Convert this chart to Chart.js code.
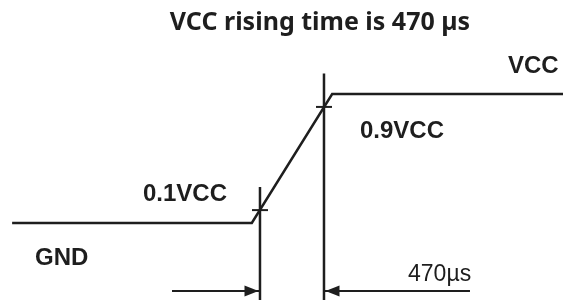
<!DOCTYPE html>
<html>
<head>
<meta charset="utf-8">
<script src="https://cdn.jsdelivr.net/npm/chart.js@4"></script>
<style>
  html, body { margin: 0; padding: 0; background: #fff; }
  #wrap { width: 563px; height: 300px; }
</style>
</head>
<body>
<div id="wrap"><canvas id="chart"></canvas></div>
<script>
// waveform: time in µs (0 = start of the rise), level as a fraction of VCC
const waveTime = [-1760, 0, 590, 2300];
const waveLevel = [0, 0, 1, 1];

// 10% / 90% crossings, 470 µs apart
const markTime = [60, 530];
const markLevel = [0.1, 0.9];
const markTop = [0.28, 1.16];

const riseTime = 470;
const titleText = 'VCC rising time is ' + riseTime + ' \u00b5s';

// level labels: text, time, level (left / baseline)
const labelText = ['VCC', '0.9VCC', '0.1VCC', 'GND'];
const labelTime = [1881, 794, -799, -1592];
const labelLevel = [1.163, 0.659, 0.171, -0.326];

const ink = '#1e1e1e';
const arrowLevel = -0.527;
const arrowTail = [-586, 1602];

const xy = (xs, ys) => xs.map((v, i) => ({ x: v, y: ys[i] }));

const lineSet = (data, extra) => Object.assign({
  data: data,
  showLine: true,
  borderColor: ink,
  borderWidth: 2.5,
  pointRadius: 0,
  tension: 0
}, extra || {});

const datasets = [
  lineSet(xy(waveTime, waveLevel)),
  // marker lines with the small horizontal tick where they cross the edge
  ...markTime.map((t, i) => lineSet(
    [{ x: t, y: markTop[i] }, { x: t, y: markLevel[i] }, { x: t, y: -0.7 }],
    { pointStyle: 'line', pointRadius: [0, 8, 0], pointBorderWidth: 2, pointBorderColor: ink }
  )),
  // dimension arrows (heads drawn by the plugin)
  ...markTime.map((t, i) => lineSet(
    [{ x: arrowTail[i], y: arrowLevel }, { x: t, y: arrowLevel }], { borderWidth: 2 }
  ))
];

const notes = {
  id: 'notes',
  afterDatasetsDraw(chart) {
    const { ctx, scales: { x, y } } = chart;
    ctx.save();
    ctx.fillStyle = ink;

    // arrowheads touching the marker lines
    const ay = y.getPixelForValue(arrowLevel);
    markTime.forEach((t, i) => {
      const dir = arrowTail[i] < t ? 1 : -1;
      const tip = x.getPixelForValue(t) - dir * 1.5;
      ctx.beginPath();
      ctx.moveTo(tip, ay);
      ctx.lineTo(tip - dir * 14, ay - 5.5);
      ctx.lineTo(tip - dir * 14, ay + 5.5);
      ctx.closePath();
      ctx.fill();
    });

    ctx.textBaseline = 'alphabetic';
    ctx.textAlign = 'left';
    ctx.font = 'bold 24px "Liberation Sans", Arial, sans-serif';
    labelText.forEach((s, i) => {
      ctx.fillText(s, x.getPixelForValue(labelTime[i]), y.getPixelForValue(labelLevel[i]));
    });

    ctx.font = '23px "Liberation Sans", Arial, sans-serif';
    ctx.fillText(riseTime + '\u00b5s', x.getPixelForValue(1147), y.getPixelForValue(-0.45));

    ctx.textAlign = 'center';
    ctx.font = 'bold 25px "Noto Sans", sans-serif';
    ctx.fillText(titleText, 320, 30);
    ctx.restore();
  }
};

new Chart(document.getElementById('chart'), {
  type: 'scatter',
  data: { datasets },
  options: {
    responsive: true,
    maintainAspectRatio: false,
    animation: false,
    layout: { padding: 0 },
    plugins: { legend: { display: false }, tooltip: { enabled: false }, title: { display: false } },
    scales: {
      x: { type: 'linear', display: false, min: -1849, max: 2285 },
      y: { type: 'linear', display: false, min: -0.597, max: 1.729 }
    }
  },
  plugins: [notes]
});
</script>
</body>
</html>
